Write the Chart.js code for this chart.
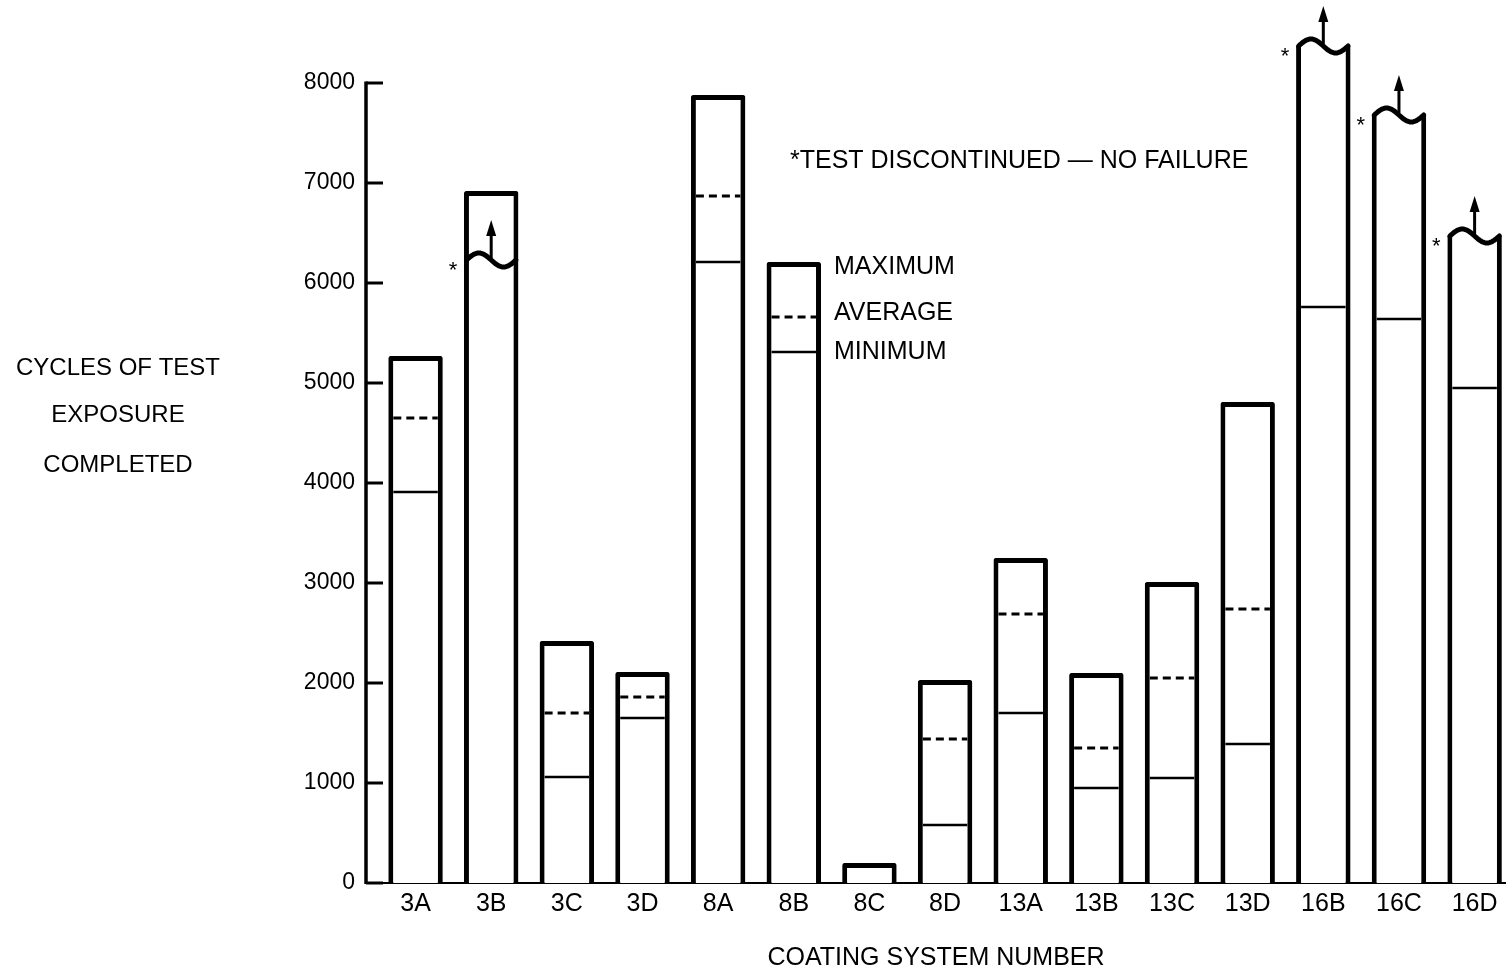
<!DOCTYPE html>
<html>
<head>
<meta charset="utf-8">
<title>Cycles of test exposure completed</title>
<script src="https://cdn.jsdelivr.net/npm/chart.js@4.4.1/dist/chart.umd.min.js"></script>
<style>
  html, body { margin: 0; padding: 0; background: #fff; }
</style>
</head>
<body>
<canvas id="coatingChart" width="1506" height="972"></canvas>
<script>
// coating systems
var categories = ["3A", "3B", "3C", "3D", "8A", "8B", "8C", "8D", "13A", "13B", "13C", "13D", "16B", "16C", "16D"];
var maximum = [5270, 6920, 2420, 2110, 7880, 6210, 200, 2030, 3250, 2100, 3010, 4810, 8370, 7680, 6470];
var average = [4650, null, 1700, 1860, 6870, 5660, null, 1440, 2690, 1350, 2050, 2740, null, null, null];
var minimum = [3910, null, 1060, 1650, 6210, 5310, null, 580, 1700, 950, 1050, 1390, 5760, 5640, 4950];
// *test discontinued - no failure (wavy break + arrow at this level)
var discontinued = [null, 6230, null, null, null, null, null, null, null, null, null, null, 8370, 7680, 6470];
var yTicks = [0, 1000, 2000, 3000, 4000, 5000, 6000, 7000, 8000];

var FONT = "'Liberation Sans', Arial, Helvetica, sans-serif";
var BORDER = 5;
var Y_MAX = 8800;

Chart.defaults.font.family = FONT;
Chart.defaults.color = "#000";

function isOpenTop(i) {
  return discontinued[i] !== null && discontinued[i] === maximum[i];
}

function drawWave(ctx, left, right, mid) {
  ctx.beginPath();
  for (var k = 0; k <= 40; k++) {
    var t = k / 40;
    var px = left + (right - left) * t;
    var py = mid - 7 * Math.sin(2 * Math.PI * t);
    if (k === 0) ctx.moveTo(px, py);
    else ctx.lineTo(px, py);
  }
  ctx.stroke();
}

function drawArrow(ctx, x, from, len) {
  var tip = from - len;
  ctx.lineWidth = 3;
  ctx.beginPath();
  ctx.moveTo(x, from);
  ctx.lineTo(x, tip + 12);
  ctx.stroke();
  ctx.beginPath();
  ctx.moveTo(x, tip);
  ctx.lineTo(x - 5, tip + 16);
  ctx.lineTo(x + 5, tip + 16);
  ctx.closePath();
  ctx.fill();
}

// min / average lines, breaks, axis line and inside ticks, free text
var extras = {
  id: "extras",
  afterDatasetsDraw: function (chart) {
    var ctx = chart.ctx;
    var x = chart.scales.x;
    var y = chart.scales.y;
    var area = chart.chartArea;
    var bars = chart.getDatasetMeta(0).data;

    ctx.save();
    ctx.strokeStyle = "#000";
    ctx.fillStyle = "#000";

    // y axis line from 0 to 8000 with ticks pointing inward
    ctx.lineWidth = 3.5;
    ctx.beginPath();
    ctx.moveTo(area.left, y.getPixelForValue(0) + 1);
    ctx.lineTo(area.left, y.getPixelForValue(yTicks[yTicks.length - 1]) - 1.5);
    ctx.stroke();
    ctx.lineWidth = 3;
    y.ticks.forEach(function (t) {
      var py = y.getPixelForValue(t.value);
      ctx.beginPath();
      ctx.moveTo(area.left, py);
      ctx.lineTo(area.left + 17, py);
      ctx.stroke();
    });

    bars.forEach(function (bar, i) {
      var half = bar.width / 2;
      var l = bar.x - half + BORDER;
      var r = bar.x + half - BORDER;

      if (minimum[i] !== null) {
        var pm = y.getPixelForValue(minimum[i]);
        ctx.lineWidth = 2.5;
        ctx.setLineDash([]);
        ctx.beginPath();
        ctx.moveTo(l, pm);
        ctx.lineTo(r, pm);
        ctx.stroke();
      }
      if (average[i] !== null) {
        var pa = y.getPixelForValue(average[i]);
        ctx.lineWidth = 3;
        ctx.setLineDash([8, 5]);
        ctx.beginPath();
        ctx.moveTo(l, pa);
        ctx.lineTo(r, pa);
        ctx.stroke();
        ctx.setLineDash([]);
      }
      if (discontinued[i] !== null) {
        var mid = y.getPixelForValue(discontinued[i]);
        ctx.lineWidth = BORDER;
        ctx.lineCap = "round";
        drawWave(ctx, bar.x - half + BORDER / 2, bar.x + half - BORDER / 2, mid);
        ctx.lineCap = "butt";
        drawArrow(ctx, bar.x, mid - 2, 38);
        ctx.font = "22px " + FONT;
        ctx.textAlign = "center";
        ctx.textBaseline = "alphabetic";
        ctx.fillText("*", bar.x - half - 11, mid + 17);
      }
    });

    // legend-like labels beside bar 8B
    var k = categories.indexOf("8B");
    var b = bars[k];
    var lx = b.x + b.width / 2 + 13;
    ctx.font = "25px " + FONT;
    ctx.textAlign = "left";
    ctx.textBaseline = "middle";
    ctx.fillText("MAXIMUM", lx, y.getPixelForValue(maximum[k]) + 5);
    ctx.fillText("AVERAGE", lx, y.getPixelForValue(average[k]) - 4);
    ctx.fillText("MINIMUM", lx, y.getPixelForValue(minimum[k]));

    ctx.fillText("*TEST DISCONTINUED \u2014 NO FAILURE", x.getPixelForValue(4.95), y.getPixelForValue(7220));

    // horizontal y-axis title
    ctx.font = "24px " + FONT;
    ctx.textAlign = "center";
    ctx.fillText("CYCLES OF TEST", 118, 368);
    ctx.fillText("EXPOSURE", 118, 415);
    ctx.fillText("COMPLETED", 118, 465);

    ctx.restore();
  }
};

var ctx = document.getElementById("coatingChart").getContext("2d");
var coatingChart = new Chart(ctx, {
  type: "bar",
  data: {
    datasets: [
      {
        data: maximum.map(function (v, i) { return { x: i, y: v }; }),
        backgroundColor: "#fff",
        borderColor: "#000",
        borderWidth: function (c) {
          return isOpenTop(c.dataIndex) ? { left: BORDER, right: BORDER, top: 0, bottom: 0 } : BORDER;
        },
        borderRadius: function (c) {
          return isOpenTop(c.dataIndex) ? 0 : 2;
        },
        borderSkipped: "start",
        barPercentage: 0.72,
        categoryPercentage: 1,
        clip: false,
      },
    ],
  },
  options: {
    responsive: false,
    animation: false,
    layout: { autoPadding: false, padding: { top: 3, right: 0, bottom: 0, left: 0 } },
    plugins: {
      legend: { display: false },
      tooltip: { enabled: false },
    },
    scales: {
      x: {
        type: "linear",
        bounds: "data",
        offset: false,
        min: -0.655,
        max: 14.415,
        grid: { display: false, drawTicks: false, offset: false },
        border: { display: true, color: "#000", width: 2 },
        afterBuildTicks: function (axis) {
          axis.ticks = categories.map(function (c, i) { return { value: i }; });
        },
        afterFit: function (scale) {
          scale.height = 89;
          scale.paddingLeft = 0;
          scale.paddingRight = 0;
        },
        ticks: {
          padding: 6,
          font: { size: 25 },
          color: "#000",
          callback: function (v) { return categories[v]; },
        },
        title: {
          display: true,
          text: "COATING SYSTEM NUMBER",
          font: { size: 25, lineHeight: 1.1 },
          color: "#000",
          padding: { top: 0, bottom: 0 },
        },
      },
      y: {
        type: "linear",
        bounds: "data",
        min: 0,
        max: Y_MAX,
        grid: { display: false, drawTicks: false },
        border: { display: false },
        afterBuildTicks: function (axis) {
          axis.ticks = yTicks.map(function (v) { return { value: v }; });
        },
        afterFit: function (scale) {
          scale.width = 366;
          scale.paddingTop = 0;
          scale.paddingBottom = 0;
        },
        ticks: {
          padding: 11,
          font: { size: 23 },
          color: "#000",
          callback: function (v) { return String(v); },
        },
      },
    },
  },
  plugins: [extras],
});
</script>
</body>
</html>
